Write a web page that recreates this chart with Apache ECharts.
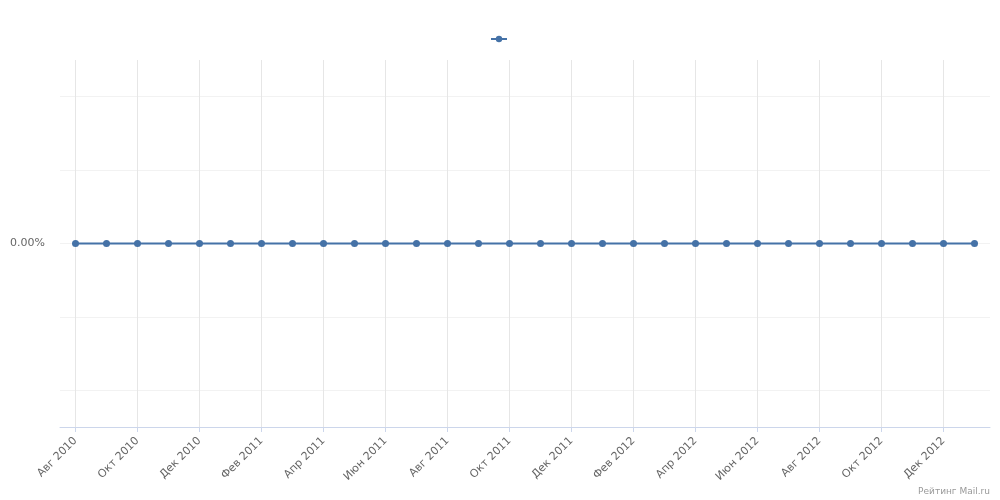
<!DOCTYPE html>
<html>
<head>
<meta charset="utf-8">
<script src="https://cdn.jsdelivr.net/npm/echarts@6/dist/echarts.min.js"></script>
<style>
  html, body { margin: 0; padding: 0; background: #fff; }
  #chart { width: 1000px; height: 500px; }
</style>
</head>
<body>
<div id="chart"></div>
<script>
// месяцы, август 2010 – январь 2013
const months = [
  'Авг 2010', 'Сен 2010', 'Окт 2010', 'Ноя 2010', 'Дек 2010', 'Янв 2011',
  'Фев 2011', 'Мар 2011', 'Апр 2011', 'Май 2011', 'Июн 2011', 'Июл 2011',
  'Авг 2011', 'Сен 2011', 'Окт 2011', 'Ноя 2011', 'Дек 2011', 'Янв 2012',
  'Фев 2012', 'Мар 2012', 'Апр 2012', 'Май 2012', 'Июн 2012', 'Июл 2012',
  'Авг 2012', 'Сен 2012', 'Окт 2012', 'Ноя 2012', 'Дек 2012', 'Янв 2013'
]
// доля, %
const share = [
  0, 0, 0, 0, 0, 0, 0, 0, 0, 0, 0, 0, 0, 0, 0,
  0, 0, 0, 0, 0, 0, 0, 0, 0, 0, 0, 0, 0, 0, 0
]
const yTicks = [-2, -1, 0, 1, 2]
const yLabels = [0]

const chart = echarts.init(document.getElementById('chart'))
const font = 'DejaVu Sans, Verdana, sans-serif'

// две сетки: внешняя — рамка и горизонтальные линии, внутренняя — точки по центрам месяцев
chart.setOption({
  animation: false,
  textStyle: { fontFamily: font },
  legend: {
    top: 30,
    left: 485,
    itemWidth: 16,
    itemHeight: 8,
    formatter: () => '',
    data: ['Доля']
  },
  grid: [
    { left: 60, right: 10, top: 60, bottom: 73 },
    { left: 75.5, right: 25.5, top: 60, bottom: 73 }
  ],
  xAxis: [{
    type: 'category',
    gridIndex: 0,
    data: months,
    boundaryGap: true,
    axisLine: { onZero: false, lineStyle: { color: '#ccd6eb' } },
    axisTick: { show: false },
    axisLabel: { show: false },
    splitLine: { show: false }
  }, {
    type: 'category',
    gridIndex: 1,
    data: months,
    boundaryGap: false,
    axisLine: { show: false, onZero: false },
    axisTick: { interval: 1, length: 5, lineStyle: { color: '#ccd6eb' } },
    axisLabel: { interval: 1, rotate: 45, color: '#666', fontSize: 11, fontFamily: font, margin: 12 },
    splitLine: { show: true, interval: 1, lineStyle: { color: '#e6e6e6' } }
  }],
  yAxis: [{
    type: 'value',
    gridIndex: 0,
    min: -2.5,
    max: 2.5,
    axisLine: { show: false },
    axisTick: { show: false, customValues: yTicks },
    axisLabel: {
      customValues: yLabels,
      color: '#666',
      fontSize: 11,
      fontFamily: font,
      margin: 15,
      formatter: v => v.toFixed(2) + '%'
    },
    splitLine: { lineStyle: { color: '#f2f2f2' } }
  }, {
    type: 'value',
    gridIndex: 1,
    min: -2.5,
    max: 2.5,
    axisLine: { show: false },
    axisTick: { show: false },
    axisLabel: { show: false },
    splitLine: { show: false }
  }],
  graphic: [{
    type: 'text',
    right: 10,
    bottom: 4,
    style: { text: 'Рейтинг Mail.ru', fill: '#999', font: '9px ' + font }
  }],
  series: [{
    name: 'Доля',
    type: 'line',
    xAxisIndex: 1,
    yAxisIndex: 1,
    data: share,
    color: '#4572A7',
    symbol: 'circle',
    symbolSize: 7,
    lineStyle: { width: 2 }
  }]
})
</script>
</body>
</html>
